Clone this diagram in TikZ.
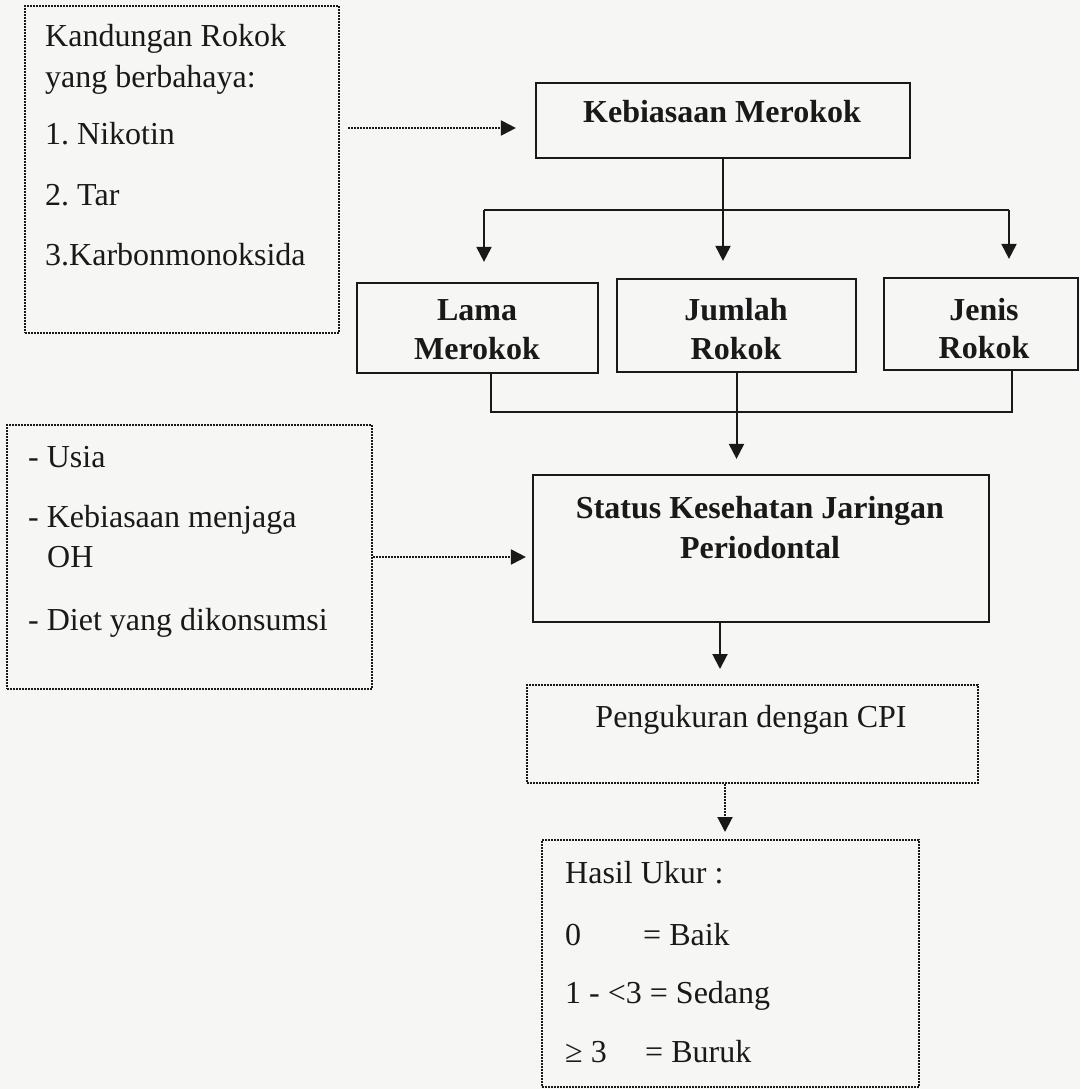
\documentclass[tikz,border=0pt]{standalone}
\usepackage{fontspec}
\setmainfont{Liberation Serif}
\usetikzlibrary{arrows.meta,calc}
\definecolor{ink}{rgb}{0.1,0.1,0.1}
\definecolor{paper}{rgb}{0.965,0.965,0.955}
\frenchspacing
\begin{document}
\begin{tikzpicture}[x=1pt,y=-1pt,
  txt/.style={font=\fontsize{32}{38}\selectfont, text=ink, inner sep=0pt},
  btxt/.style={font=\fontsize{32}{38}\selectfont\bfseries, text=ink, inner sep=0pt},
  sbox/.style={draw=ink, line width=2.2pt, inner sep=0pt, rectangle},
  dbox/.style={draw=ink, line width=2pt, dash pattern=on 1.6pt off 1.4pt, inner sep=0pt, rectangle},
  arr/.style={draw=ink, line width=2pt, -{Triangle[width=15pt,length=15pt]}},
  darr/.style={draw=ink, line width=2pt, dash pattern=on 1.6pt off 1.4pt, -{Triangle[width=15pt,length=15pt]}},
  conn/.style={draw=ink, line width=2pt}]
\fill[paper] (0,0) rectangle (1080,1089);
\useasboundingbox (0,0) rectangle (1080,1089);

% boxes
\node[dbox, minimum width=314pt, minimum height=327pt] (box1) at (182,169.5) {};
\node[sbox, minimum width=374pt, minimum height=75pt] (keb) at (723,120.5) {};
\node[sbox, minimum width=241pt, minimum height=90pt] (lama) at (477.5,328) {};
\node[sbox, minimum width=239pt, minimum height=93pt] (jum) at (736.5,325.5) {};
\node[sbox, minimum width=194pt, minimum height=92pt] (jenis) at (981,324) {};
\node[dbox, minimum width=365pt, minimum height=264pt] (box2) at (189.5,557) {};
\node[sbox, minimum width=456pt, minimum height=147pt] (stat) at (761,548.5) {};
\node[dbox, minimum width=451pt, minimum height=98pt] (cpi) at (752.5,734) {};
\node[dbox, minimum width=377pt, minimum height=247pt] (hasil) at (730.5,963.5) {};

% texts box1
\node[txt, anchor=base west] (k1) at (45,47) {Kandungan Rokok};
\node[txt, anchor=base west] (k2) at (45,88) {yang berbahaya:};
\node[txt, anchor=base west] (k3) at (45,145) {1. Nikotin};
\node[txt, anchor=base west] (k4) at (45,205) {2. Tar};
\node[txt, anchor=base west] (k5) at (45,265) {3.Karbonmonoksida};

% bold texts
\node[btxt, anchor=base] (kebt) at (722,123) {Kebiasaan Merokok};
\node[btxt, anchor=base] (lama1) at (477,320) {Lama};
\node[btxt, anchor=base] (lama2) at (477,359) {Merokok};
\node[btxt, anchor=base] (jum1) at (736,320) {Jumlah};
\node[btxt, anchor=base] (jum2) at (736,359) {Rokok};
\node[btxt, anchor=base] (jen1) at (984,320) {Jenis};
\node[btxt, anchor=base] (jen2) at (984,358) {Rokok};
\node[btxt, anchor=base] (st1) at (760,518) {Status Kesehatan Jaringan};
\node[btxt, anchor=base] (st2) at (760,558) {Periodontal};

% box2 texts
\node[txt, anchor=base west] (u1) at (28,467) {- Usia};
\node[txt, anchor=base west] (u2) at (28,527) {- Kebiasaan menjaga};
\node[txt, anchor=base west] (u3) at (47,567) {OH};
\node[txt, anchor=base west] (u4) at (28,630) {- Diet yang dikonsumsi};

% cpi
\node[txt, anchor=base] (cpit) at (751,727) {Pengukuran dengan CPI};

% hasil texts
\node[txt, anchor=base west] (h0) at (565,883) {Hasil Ukur :};
\node[txt, anchor=base west] (h1a) at (565,945) {0};
\node[txt, anchor=base west] (h1b) at (643,945) {= Baik};
\node[txt, anchor=base west] (h2) at (565,1003) {1 - <3 = Sedang};
\node[txt, anchor=base west] (h3a) at (565,1062) {≥ 3};
\node[txt, anchor=base west] (h3b) at (645,1062) {= Buruk};

% connectors
\draw[darr] ($(box1.east |- keb.west)+(8,7.5)$) -- ($(keb.west)+(-19,7.5)$);

\coordinate (hl) at (484,210);
\coordinate (hr) at (1009,210);
\draw[conn] (hl) -- (hr);
\draw[arr] (keb.south) -- ($(keb.south |- jum.north)+(0,-17)$);
\draw[arr] (hl) -- ($(hl |- lama.north)+(0,-20)$);
\draw[arr] (hr) -- ($(hr |- jenis.north)+(0,-18)$);

\coordinate (bl) at (491,412);
\coordinate (br) at (1012,412);
\draw[conn] (bl |- lama.south) -- (bl) -- (br) -- (br |- jenis.south);
\draw[arr] (jum.south) -- ($(jum.south |- stat.north)+(0,-15)$);

\draw[darr] (box2.east) -- ($(box2.east -| stat.west)+(-6,0)$);

\draw[arr] ($(stat.south)+(-41,0)$) -- ($(stat.south |- cpi.north)+(-41,-15)$);
\draw[darr] ($(cpi.south)+(-27.5,0)$) -- ($(cpi.south |- hasil.north)+(-27.5,-7)$);
\end{tikzpicture}
\end{document}
